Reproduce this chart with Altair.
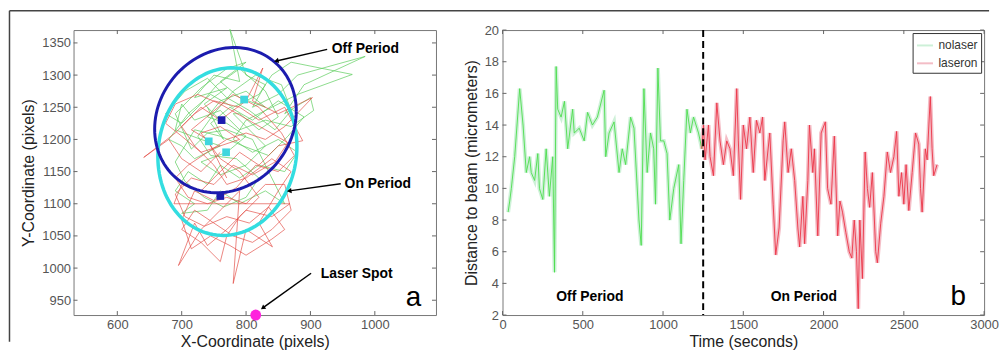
import altair as alt
import pandas as pd
import numpy as np

FONT = "Liberation Sans"

# ---------------- Panel a data ----------------
green_x = [760, 735, 770, 720, 750, 790, 775, 800, 830, 810, 850, 880, 985, 890, 860, 900, 905, 870, 830, 790,
           760, 720, 700, 690, 730, 760, 720, 700, 680, 710, 745, 780, 820, 840, 870, 965, 880, 840, 800, 780,
           810, 850, 880, 860, 820, 790, 760, 740, 710, 690, 720, 700, 740, 760, 790, 830, 860, 840, 810, 770,
           740, 715, 690, 730, 770, 800, 760, 790, 830, 800, 760, 740, 770, 800, 770, 730, 760, 800, 830, 780,
           790, 820, 850, 830, 790, 755, 725, 700, 675, 705, 740, 770, 805, 845, 870, 855, 815, 780, 750, 725,
           745, 785, 820, 800, 765, 735, 705, 690, 720, 760, 795, 835, 865, 890, 850, 810, 775, 745, 765, 740]
green_y = [1230, 1255, 1280, 1265, 1300, 1290, 1371, 1300, 1285, 1250, 1270, 1300, 1329, 1285, 1240, 1265,
           1245, 1220, 1230, 1215, 1245, 1230, 1255, 1215, 1200, 1190, 1170, 1190, 1200, 1240, 1270, 1250,
           1270, 1300, 1320, 1301, 1270, 1250, 1230, 1200, 1180, 1200, 1180, 1150, 1160, 1140, 1160, 1130,
           1150, 1120, 1100, 1085, 1090, 1120, 1100, 1120, 1100, 1140, 1200, 1215, 1210, 1185, 1240, 1280,
           1310, 1320, 1290, 1265, 1250, 1275, 1260, 1235, 1225, 1205, 1180, 1165, 1145, 1160, 1190, 1240,
           1240, 1215, 1235, 1275, 1310, 1285, 1250, 1225, 1240, 1275, 1295, 1265, 1245, 1215, 1245, 1285,
           1300, 1275, 1240, 1205, 1175, 1170, 1140, 1110, 1095, 1110, 1135, 1165, 1215, 1205, 1190, 1175,
           1205, 1235, 1260, 1230, 1250, 1225, 1200, 1250]

red_x = [760, 730, 700, 680, 641, 690, 720, 750, 790, 820, 860, 888, 850, 820, 790, 760, 730, 700, 688, 868,
         840, 800, 770, 740, 720, 695, 730, 760, 790, 780, 800, 841, 820, 850, 870, 840, 800, 770, 750, 720,
         700, 730, 760, 800, 826, 810, 850, 903, 860, 830, 800, 770, 740, 710, 690, 710, 740, 770, 800, 830,
         860, 870, 840, 810, 780, 750, 720, 700, 730, 760, 770, 790, 820, 790, 760, 730, 760, 790, 760,
         730, 700, 675, 690, 725, 760, 795, 830, 865, 845, 810, 780, 750, 715, 690, 705, 735, 770, 805, 835,
         860, 840, 800, 775, 745, 715, 700, 720, 750, 785, 815, 850, 875, 855, 820, 780, 745, 715, 740, 770]
red_y = [1180, 1150, 1170, 1200, 1172, 1210, 1240, 1260, 1250, 1230, 1250, 1198, 1190, 1160, 1180, 1150,
         1120, 1130, 1100, 1100, 1080, 1090, 1060, 1035, 1070, 1004, 1060, 1090, 1120, 976, 1060, 1033,
         1070, 1120, 1150, 1170, 1140, 1130, 1160, 1190, 1220, 1250, 1230, 1260, 1311, 1260, 1240, 1265,
         1220, 1200, 1210, 1200, 1180, 1160, 1140, 1110, 1100, 1110, 1100, 1130, 1130, 1090, 1060, 1040,
         1050, 1070, 1090, 1060, 1040, 1010, 1050, 1080, 1110, 1150, 1170, 1210, 1220, 1200, 1190,
         1180, 1205, 1225, 1255, 1270, 1255, 1235, 1215, 1195, 1165, 1145, 1160, 1130, 1140, 1115, 1080,
         1065, 1080, 1070, 1095, 1060, 1045, 1020, 1035, 1050, 1030, 1075, 1120, 1105, 1125, 1160, 1150,
         1175, 1210, 1250, 1270, 1240, 1215, 1200, 1140]

# ellipses: centre x, centre y, x radius, y radius, tilt (shear)
off_ellipse = [768, 1230, 110, 112, 14]
on_ellipse = [771, 1181, 108, 130, 8]

off_centres_x = [762, 760]
off_centres_y = [1230, 1112]
on_centres_x = [797, 742, 769]
on_centres_y = [1262, 1197, 1180]

laser_x = [815]
laser_y = [927]

ann_labels = ["Off Period", "On Period", "Laser Spot"]
ann_text_x = [930, 950, 913]
ann_text_y = [1340, 1131, 990]
ann_from_x = [926, 947, 901]
ann_from_y = [1340, 1131, 992]
ann_to_x = [847, 867, 826]
ann_to_y = [1322, 1120, 938]
ann_angle = [257, 262, 234]

xa_ticks = [600, 700, 800, 900, 1000]
ya_ticks = [950, 1000, 1050, 1100, 1150, 1200, 1250, 1300, 1350]

# ---------------- Panel b data ----------------
t_off = [35, 45, 55, 76, 107, 128, 148, 169, 179, 200, 220, 230, 251, 272, 292, 313, 324, 334, 344,
         365, 386, 406, 437, 447, 478, 509, 530, 560, 591, 633, 643, 664, 695, 726, 746, 767, 798,
         819, 850, 864, 881, 901, 922, 942, 953, 968, 984, 1005, 1025, 1042, 1067, 1098, 1112, 1129,
         1149, 1170, 1190, 1221, 1242]
d_off = [8.5, 9.2, 10.0, 12.0, 16.3, 14.0, 11.0, 12.0, 11.0, 10.5, 12.2, 10.0, 9.3, 12.5, 9.5, 12.0, 4.7,
         17.7, 15.0, 14.5, 15.5, 12.5, 15.0, 13.5, 13.8, 13.0, 14.8, 14.0, 14.5, 16.2, 12.0, 13.5, 14.2,
         11.0, 12.5, 11.5, 14.5, 13.8, 8.0, 6.4, 16.3, 11.0, 13.5, 12.5, 9.0, 17.6, 13.0, 13.0, 12.2, 8.0,
         10.0, 11.5, 6.5, 10.5, 15.0, 13.5, 14.5, 13.5, 12.5]

t_on = [1242, 1252, 1262, 1283, 1293, 1314, 1335, 1355, 1376, 1397, 1417, 1438, 1459, 1469, 1483, 1500,
        1520, 1541, 1562, 1582, 1603, 1620, 1634, 1665, 1686, 1702, 1723, 1748, 1758, 1779, 1799, 1820,
        1840, 1851, 1871, 1882, 1902, 1912, 1933, 1943, 1964, 1985, 2011, 2025, 2046, 2067, 2088, 2102,
        2118, 2139, 2160, 2176, 2191, 2205, 2216, 2226, 2242, 2259, 2273, 2287, 2304, 2325, 2335, 2356,
        2376, 2397, 2417, 2438, 2455, 2469, 2486, 2500, 2514, 2531, 2552, 2573, 2593, 2604, 2614, 2634,
        2645, 2665, 2676, 2686, 2707]
d_on = [12.5, 14.0, 11.8, 14.0, 12.0, 10.8, 15.4, 13.0, 11.5, 13.0, 12.5, 10.8, 16.3, 13.0, 9.3, 14.0,
        12.5, 14.5, 11.0, 14.3, 13.5, 14.5, 10.5, 13.5, 9.0, 5.8, 7.5, 13.0, 14.2, 11.0, 12.5, 10.5, 7.5,
        6.3, 9.5, 6.5, 10.5, 14.0, 11.0, 12.5, 7.0, 13.5, 14.2, 10.0, 9.0, 13.3, 7.0, 9.2, 8.5, 7.2, 6.0,
        5.6, 8.0, 6.0, 2.4, 8.0, 4.3, 12.3, 10.0, 8.8, 11.0, 6.0, 5.3, 7.8, 9.5, 12.3, 11.0, 12.0, 13.6,
        9.5, 11.0, 9.0, 11.5, 8.6, 11.0, 13.5, 12.8, 10.0, 8.5, 12.5, 11.8, 15.8, 12.5, 10.8, 11.5]

switch_t = [1250]
b_labels = ["Off Period", "On Period"]
b_label_t = [544, 1877]
b_label_d = [3.15, 3.15]

xb_ticks = [0, 500, 1000, 1500, 2000, 2500, 3000]
yb_ticks = [2, 4, 6, 8, 10, 12, 14, 16, 18, 20]

# ---------------- layout ----------------
WA, HA = 365, 287
WB, HB = 485, 287
TICK = 4
TICK_COLOR = "#666666"

xa = alt.Scale(domain=[532, 1095], nice=False, zero=False)
ya = alt.Scale(domain=[927, 1370], nice=False, zero=False)
xb = alt.Scale(domain=[0, 3000], nice=False, zero=False)
yb = alt.Scale(domain=[2, 20], nice=False, zero=False)

axis_common = dict(ticks=False, tickSize=0, grid=False, domain=False, labelFlush=False,
                   labelOverlap=False, format="d")
ax_a_x = alt.Axis(title="X-Coordinate (pixels)", values=xa_ticks, labelPadding=4, titlePadding=2,
                  **axis_common)
ax_a_y = alt.Axis(title="Y-Coordinate (pixels)", values=ya_ticks, labelPadding=3,
                  titleX=-45, titleY=HA / 2, titleAngle=270, titleAlign="center",
                  titleBaseline="middle", **axis_common)
ax_b_x = alt.Axis(title="Time (seconds)", values=xb_ticks, labelPadding=4, titlePadding=2, **axis_common)
ax_b_y = alt.Axis(title="Distance to beam (micrometers)", values=yb_ticks, labelPadding=4,
                  titleX=-31, titleY=HB / 2, titleAngle=270, titleAlign="center",
                  titleBaseline="middle", **axis_common)


def XA(f):
    return alt.X(f, scale=xa, axis=ax_a_x)


def YA(f):
    return alt.Y(f, scale=ya, axis=ax_a_y)


def XB(f):
    return alt.X(f, scale=xb, axis=ax_b_x)


def YB(f):
    return alt.Y(f, scale=yb, axis=ax_b_y)


def inner_ticks(xvals, yvals, X, Y, W, H):
    tx = pd.DataFrame({"v": xvals})
    ty = pd.DataFrame({"v": yvals})
    base_x = alt.Chart(tx).mark_rule(color=TICK_COLOR, strokeWidth=1)
    base_y = alt.Chart(ty).mark_rule(color=TICK_COLOR, strokeWidth=1)
    return [
        base_x.encode(x=X("v:Q"), y=alt.value(H), y2=alt.value(H - TICK)),
        base_x.encode(x=X("v:Q"), y=alt.value(0), y2=alt.value(TICK)),
        base_y.encode(y=Y("v:Q"), x=alt.value(0), x2=alt.value(TICK)),
        base_y.encode(y=Y("v:Q"), x=alt.value(W - TICK), x2=alt.value(W)),
    ]


def ellipse_df(p):
    cx, cy, rx, ry, k = p
    t = np.linspace(0, 2 * np.pi, 121)
    return pd.DataFrame({"x": cx + rx * np.cos(t),
                         "y": cy + ry * np.sin(t) + k * np.cos(t),
                         "i": np.arange(len(t))})


# ---- panel a ----
green_df = pd.DataFrame({"x": green_x, "y": green_y, "i": range(len(green_x))})
red_df = pd.DataFrame({"x": red_x, "y": red_y, "i": range(len(red_x))})

frame = alt.Chart(pd.DataFrame({"a": [0]}))
frame_top = frame.mark_rule(color="#444444", strokeWidth=1.5).encode(
    x=alt.value(-64.5), x2=alt.value(922), y=alt.value(-19.5))
frame_left = frame.mark_rule(color="#444444", strokeWidth=1.5).encode(
    x=alt.value(-64.5), y=alt.value(-19.5), y2=alt.value(314))

green_line = alt.Chart(green_df).mark_line(color="#5ccc5c", strokeWidth=1, opacity=0.7).encode(
    x=XA("x:Q"), y=YA("y:Q"), order="i:Q")
red_line = alt.Chart(red_df).mark_line(color="#e2453d", strokeWidth=1, opacity=0.65).encode(
    x=XA("x:Q"), y=YA("y:Q"), order="i:Q")

cyan_ell = alt.Chart(ellipse_df(on_ellipse)).mark_line(color="#33dde0", strokeWidth=3.5).encode(
    x=XA("x:Q"), y=YA("y:Q"), order="i:Q")
blue_ell = alt.Chart(ellipse_df(off_ellipse)).mark_line(color="#1c1cae", strokeWidth=3).encode(
    x=XA("x:Q"), y=YA("y:Q"), order="i:Q")

blue_pts = alt.Chart(pd.DataFrame({"x": off_centres_x, "y": off_centres_y})).mark_square(
    color="#1c1cae", size=60, opacity=1).encode(x=XA("x:Q"), y=YA("y:Q"))
cyan_pts = alt.Chart(pd.DataFrame({"x": on_centres_x, "y": on_centres_y})).mark_square(
    color="#3fd6de", size=60, opacity=1).encode(x=XA("x:Q"), y=YA("y:Q"))
laser = alt.Chart(pd.DataFrame({"x": laser_x, "y": laser_y})).mark_circle(
    color="#ff22dd", size=120, opacity=1).encode(x=XA("x:Q"), y=YA("y:Q"))

ann_df = pd.DataFrame({"label": ann_labels, "tx": ann_text_x, "ty": ann_text_y,
                       "x1": ann_from_x, "y1": ann_from_y, "x2": ann_to_x, "y2": ann_to_y,
                       "ang": ann_angle})
ann_lines = alt.Chart(ann_df).mark_rule(color="black", strokeWidth=1.5).encode(
    x=XA("x1:Q"), y=YA("y1:Q"), x2="x2:Q", y2="y2:Q")
ann_heads = alt.Chart(ann_df).mark_point(shape="triangle-up", filled=True, color="black",
                                         size=28, opacity=1).encode(
    x=XA("x2:Q"), y=YA("y2:Q"), angle=alt.Angle("ang:Q", scale=None))
ann_text = alt.Chart(ann_df).mark_text(align="left", baseline="middle", font=FONT, fontSize=14,
                                       fontWeight="bold", color="black", dx=2).encode(
    x=XA("tx:Q"), y=YA("ty:Q"), text="label:N")
panel_tag_a = alt.Chart(pd.DataFrame({"x": [1060], "y": [941], "t": ["a"]})).mark_text(
    font=FONT, fontSize=28, align="center", baseline="alphabetic", color="black").encode(
    x=XA("x:Q"), y=YA("y:Q"), text="t:N")

panel_a = alt.layer(
    green_line, red_line, cyan_ell, blue_ell, blue_pts, cyan_pts,
    ann_lines, ann_heads, ann_text, panel_tag_a, laser,
    *inner_ticks(xa_ticks, ya_ticks, XA, YA, WA, HA), frame_top, frame_left
).properties(width=WA, height=HA)

# ---- panel b ----
b_df = pd.concat([
    pd.DataFrame({"t": t_off, "d": d_off, "series": "nolaser"}),
    pd.DataFrame({"t": t_on, "d": d_on, "series": "laseron"}),
], ignore_index=True)

halo = alt.Chart(b_df).mark_line(strokeWidth=4, opacity=0.75).encode(
    x=XB("t:Q"), y=YB("d:Q"),
    color=alt.Color("series:N",
                    scale=alt.Scale(domain=["nolaser", "laseron"], range=["#bdeccb", "#f0a8b4"]),
                    legend=alt.Legend(title=None, orient="top-right")),
    detail="series:N")
core_off = alt.Chart(b_df[b_df.series == "nolaser"]).mark_line(
    color="#4ddd4d", strokeWidth=1, opacity=0.9).encode(x=XB("t:Q"), y=YB("d:Q"))
core_on = alt.Chart(b_df[b_df.series == "laseron"]).mark_line(
    color="#ec3546", strokeWidth=1, opacity=0.9).encode(x=XB("t:Q"), y=YB("d:Q"))

switch = alt.Chart(pd.DataFrame({"t": switch_t})).mark_rule(
    color="black", strokeWidth=2, strokeDash=[7, 4]).encode(x=XB("t:Q"))

b_text = alt.Chart(pd.DataFrame({"t": b_label_t, "d": b_label_d, "label": b_labels})).mark_text(
    font=FONT, fontSize=14, fontWeight="bold", align="center", baseline="middle", color="black").encode(
    x=XB("t:Q"), y=YB("d:Q"), text="label:N")
panel_tag_b = alt.Chart(pd.DataFrame({"t": [2839], "d": [2.63], "s": ["b"]})).mark_text(
    font=FONT, fontSize=28, align="center", baseline="alphabetic", color="black").encode(
    x=XB("t:Q"), y=YB("d:Q"), text="s:N")

panel_b = alt.layer(
    halo, core_off, core_on, switch, b_text, panel_tag_b,
    *inner_ticks(xb_ticks, yb_ticks, XB, YB, WB, HB)
).properties(width=WB, height=HB)

chart = alt.hconcat(panel_a, panel_b, spacing=67, bounds="flush").resolve_scale(
    color="independent").properties(
    padding={"left": 0, "top": 0, "right": 0, "bottom": 0}, background="white"
).configure_view(
    stroke="#777777", strokeWidth=1
).configure_axis(
    labelFont=FONT, labelFontSize=13, labelColor="#555555",
    titleFont=FONT, titleFontSize=16, titleFontWeight="normal", titleColor="#222222"
).configure_legend(
    fillColor="white", strokeColor="#333333", padding=3, offset=3,
    labelFont=FONT, labelFontSize=12, labelColor="#333333",
    symbolType="stroke", symbolSize=260, symbolStrokeWidth=2, rowPadding=2
)

chart.save("out.html", embed_options={"renderer": "svg", "actions": False})
